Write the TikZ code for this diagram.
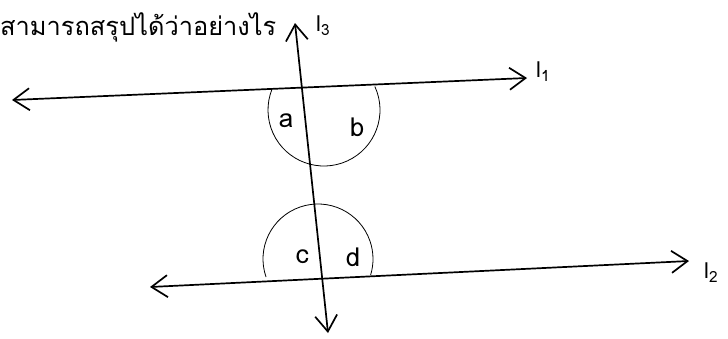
\documentclass[tikz,border=0pt]{standalone}
\usepackage{fontspec}
\setmainfont[Script=Thai]{Loma}
\usetikzlibrary{arrows.meta}
\begin{document}
\begin{tikzpicture}[x=1pt,y=-1pt,
  ln/.style={line width=1.7pt,{Straight Barb[length=16pt,width=22pt,line width=1.7pt]}-{Straight Barb[length=16pt,width=22pt,line width=1.7pt]}},
  arcline/.style={line width=0.8pt},
  angtxt/.style={font=\fontsize{26}{30}\selectfont,inner sep=0pt},
  lbl/.style={font=\fontsize{22}{24}\selectfont,inner sep=0pt,anchor=west}]
\useasboundingbox (0,0) rectangle (728,338);
% line end points
\coordinate (A1) at (12,100);
\coordinate (B1) at (527,78);
\coordinate (A2) at (150,287);
\coordinate (B2) at (689,261);
\coordinate (A3) at (295,23);
\coordinate (B3) at (328,333);
\coordinate (C1) at (324,110);
\coordinate (C2) at (318,259);
% lines
\draw[ln] (A1) -- (B1);
\draw[ln] (A2) -- (B2);
\draw[ln] (B3) -- (A3);
% arcs
\draw[arcline] (C1) ++(-24.8:56) arc[start angle=-24.8,end angle=202,radius=56];
\draw[arcline] (C2) ++(160.9:55) arc[start angle=160.9,end angle=377.1,radius=55];
% angle labels
\node[angtxt] (a) at (286,121) {a};
\node[angtxt] (b) at (357,127) {b};
\node[angtxt] (c) at (302,257) {c};
\node[angtxt] (d) at (353,257) {d};
% line labels
\node[lbl] (l1) at (536,72) {l\textsubscript{1}};
\node[lbl] (l2) at (704,273) {l\textsubscript{2}};
\node[lbl] (l3) at (316,26) {l\textsubscript{3}};
% question
\node[font=\fontsize{25.4}{30}\selectfont,inner sep=0pt,anchor=west] (q) at (0,27) {สามารถสรุปได้ว่าอย่างไร};
\end{tikzpicture}
\end{document}
